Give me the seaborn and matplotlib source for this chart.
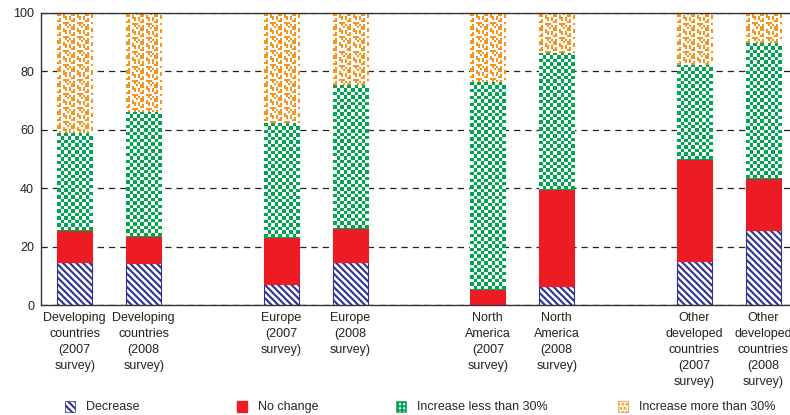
import numpy as np
import pandas as pd
import matplotlib
matplotlib.use("Agg")
import matplotlib.pyplot as plt
from matplotlib.colors import ListedColormap
from matplotlib.patches import Patch
import seaborn as sns

# data (percent of respondents)
groups = [
    "Developing\ncountries\n(2007\nsurvey)", "Developing\ncountries\n(2008\nsurvey)",
    "Europe\n(2007\nsurvey)", "Europe\n(2008\nsurvey)",
    "North\nAmerica\n(2007\nsurvey)", "North\nAmerica\n(2008\nsurvey)",
    "Other\ndeveloped\ncountries\n(2007\nsurvey)", "Other\ndeveloped\ncountries\n(2008\nsurvey)",
]
decrease = [14.6, 14.3, 7.1, 14.7, 0.0, 6.6, 15.1, 25.8]
no_change = [11.2, 9.3, 16.2, 11.8, 5.6, 33.2, 34.8, 17.8]
less_30 = [33.1, 42.6, 38.9, 48.8, 70.7, 46.6, 32.4, 46.0]
more_30 = [41.1, 33.8, 37.8, 24.7, 23.7, 13.6, 17.7, 10.4]
series = ["Decrease", "No change", "Increase less than 30%", "Increase more than 30%"]

# layout: pairs of bars with an empty slot between the regions
slots = [0, 1, 3, 4, 6, 7, 9, 10]

navy = "#2E3192"
red = "#ED1C24"
green = "#00A651"
orange = "#F7941D"

sns.set_theme(style="white")
plt.rcParams["font.family"] = ["Liberation Sans", "DejaVu Sans"]
plt.rcParams["hatch.linewidth"] = 1.5

df = pd.DataFrame({"slot": slots, "group": groups})
for name, vals in zip(series, [decrease, no_change, less_30, more_30]):
    df[name] = vals

fig, ax = plt.subplots(figsize=(7.9, 4.15), dpi=100)
fig.subplots_adjust(left=0.052, right=1.0, bottom=0.265, top=0.969)

styles = {
    "Decrease": dict(color="white", edgecolor=navy, hatch="\\\\\\\\\\"),
    "No change": dict(color=red, edgecolor=red),
    "Increase less than 30%": dict(color="white", edgecolor=green),
    "Increase more than 30%": dict(color="white", edgecolor=orange),
}

bottom = np.zeros(len(df))
bars = {}
for name in series:
    sns.barplot(data=df, x="slot", y=name, native_scale=True, width=0.51,
                bottom=bottom.copy(), errorbar=None, saturation=1,
                linewidth=0.8, ax=ax, **styles[name])
    bars[name] = ax.containers[-1]
    bottom = bottom + df[name].to_numpy()


def add_texture(container, tile, color, cols, unit_per_row):
    cmap = ListedColormap(["white", color])
    for bar in container.patches:
        h = bar.get_height()
        if h <= 0:
            continue
        x0, w, y0 = bar.get_x(), bar.get_width(), bar.get_y()
        rows = max(1, int(round(h / unit_per_row)))
        ty, tx = tile.shape
        img = np.tile(tile, (rows // ty + 1, cols // tx + 1))[:rows, :cols]
        im = ax.imshow(img, cmap=cmap, vmin=0, vmax=1, aspect="auto",
                       interpolation="nearest", extent=(x0, x0 + w, y0, y0 + h),
                       zorder=bar.get_zorder() + 0.01)
        im.set_clip_path(bar)


checker = np.array([[1, 0], [0, 1]])
speckle = np.array([
    [1, 1, 0, 0, 0, 1, 0],
    [1, 1, 0, 1, 0, 0, 0],
    [0, 0, 0, 1, 1, 0, 1],
    [0, 1, 0, 0, 1, 0, 1],
    [1, 1, 0, 0, 0, 0, 0],
    [0, 0, 0, 1, 1, 1, 0],
    [0, 1, 0, 0, 1, 0, 1],
])
add_texture(bars["Increase less than 30%"], checker, green, 10, 1.17)
add_texture(bars["Increase more than 30%"], speckle, orange, 18, 0.685)

ax.set_xlim(-0.49, 10.39)
ax.set_ylim(0, 100)
ax.set_xticks(slots)
ax.set_xticklabels(groups, fontsize=9, color="#222222", linespacing=1.45, va="top")
ax.set_yticks([0, 20, 40, 60, 80, 100])
ax.set_yticklabels(["0", "20", "40", "60", "80", "100"], fontsize=9, color="#222222")
ax.tick_params(axis="both", length=0, pad=5)
ax.set_xlabel("")
ax.set_ylabel("")

ax.yaxis.grid(True, linestyle=(0, (5, 4)), color="#222222", linewidth=0.9)
ax.set_axisbelow(True)
for side in ["left", "bottom", "top"]:
    ax.spines[side].set_color("#333333")
    ax.spines[side].set_linewidth(1.0)
ax.spines["right"].set_visible(False)

handles = [
    Patch(facecolor="white", edgecolor=navy, hatch="\\\\\\\\\\", linewidth=0.5),
    Patch(facecolor=red, edgecolor=red),
    Patch(facecolor="white", edgecolor=green, hatch="++++", linewidth=0.5),
    Patch(facecolor="white", edgecolor=orange, hatch="....", linewidth=0.5),
]
legend_x = [65, 237, 396, 618]
for hx, h, name in zip(legend_x, handles, series):
    fig.legend([h], [name], loc="center left", bbox_to_anchor=(hx / 790, 8 / 415),
               frameon=False, fontsize=9, handlelength=0.8, handleheight=1.0,
               handletextpad=0.9, borderpad=0, borderaxespad=0)

fig.savefig("out.png", dpi=100)
